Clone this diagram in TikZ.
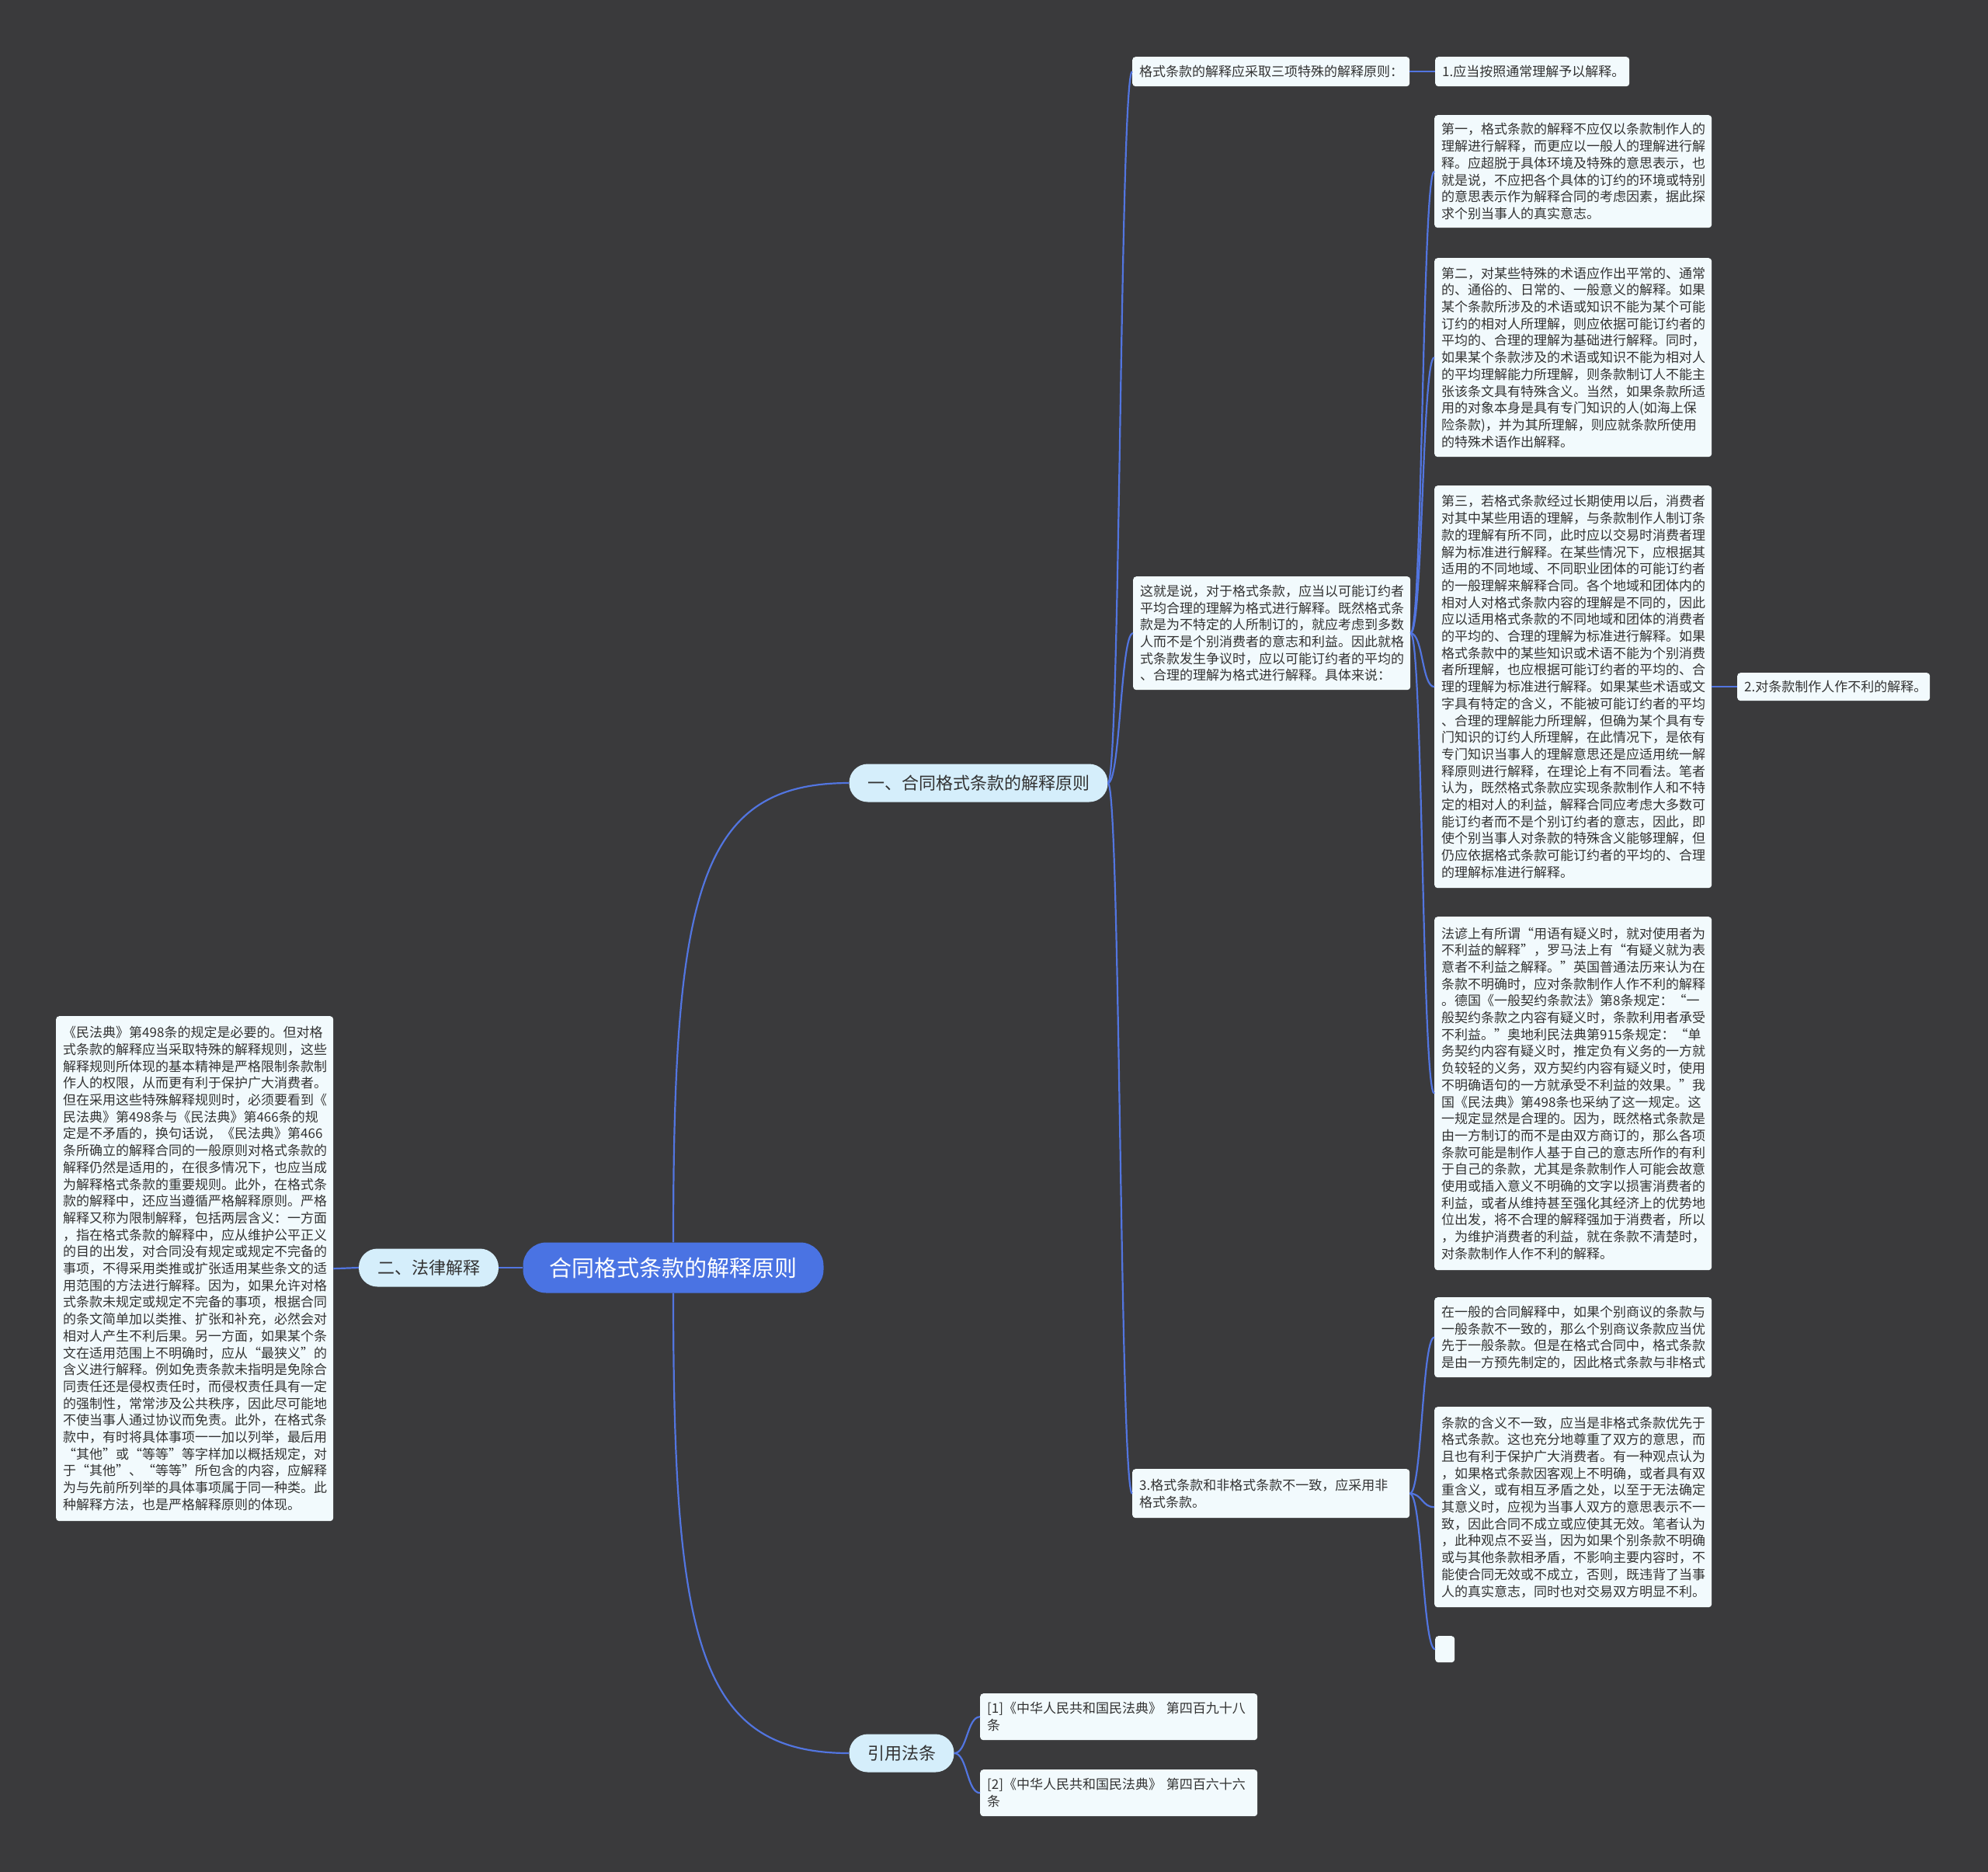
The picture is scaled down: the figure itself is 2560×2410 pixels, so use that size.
\documentclass[tikz,border=0pt]{standalone}
\usepackage{fontspec}
\setmainfont{Noto Sans CJK SC}
\usetikzlibrary{calc}
\definecolor{bg}{RGB}{58,58,60}
\definecolor{rootblue}{RGB}{74,115,227}
\definecolor{pill}{RGB}{213,238,251}
\definecolor{leaf}{RGB}{242,250,253}
\definecolor{conn}{RGB}{82,117,224}
\definecolor{txt}{RGB}{51,51,51}
\tikzset{
  leafbox/.style={fill=leaf, rounded corners=4pt, anchor=north west, inner xsep=9pt, inner ysep=8pt,
    align=left, text=txt, text width=339pt, font=\fontsize{17}{21.7}\selectfont},
  rootbox/.style={fill=rootblue, text=white, rounded corners=30pt, inner sep=0pt,
    minimum width=387pt, minimum height=65pt, font=\fontsize{29}{34}\selectfont},
  pillbox/.style={fill=pill, text=txt, rounded corners=24pt, inner sep=0pt,
    minimum height=49pt, font=\fontsize{22}{26}\selectfont},
  conn/.style={draw=conn, line width=2.2pt},
}
\begin{document}
\begin{tikzpicture}[x=1pt,y=-1pt]
\path[fill=bg] (0,0) rectangle (2560,2410);

% root and main branches
\node[rootbox] (root) at (867,1632) {合同格式条款的解释原则};
\node[pillbox, minimum width=333pt] (L1a) at (1260,1008) {一、合同格式条款的解释原则};
\node[pillbox, minimum width=180pt] (L1b) at (552,1632) {二、法律解释};
\node[pillbox, minimum width=135pt] (L1c) at (1161,2257) {引用法条};

% branch 1
\node[leafbox, minimum height=38pt] (A) at (1458,73) {格式条款的解释应采取三项特殊的解释原则：};
\node[leafbox, text width=232pt, minimum height=38pt] (B) at (1848,73) {1.应当按照通常理解予以解释。};

\node[leafbox, minimum height=146pt] (C) at (1459,742) {这就是说，对于格式条款，应当以可能订约者\\平均合理的理解为格式进行解释。既然格式条\\款是为不特定的人所制订的，就应考虑到多数\\人而不是个别消费者的意志和利益。因此就格\\式条款发生争议时，应以可能订约者的平均的\\、合理的理解为格式进行解释。具体来说：};

\node[leafbox, minimum height=145pt] (D1) at (1847,148) {第一，格式条款的解释不应仅以条款制作人的\\理解进行解释，而更应以一般人的理解进行解\\释。应超脱于具体环境及特殊的意思表示，也\\就是说，不应把各个具体的订约的环境或特别\\的意思表示作为解释合同的考虑因素，据此探\\求个别当事人的真实意志。};

\node[leafbox, minimum height=256pt] (D2) at (1847,332) {第二，对某些特殊的术语应作出平常的、通常\\的、通俗的、日常的、一般意义的解释。如果\\某个条款所涉及的术语或知识不能为某个可能\\订约的相对人所理解，则应依据可能订约者的\\平均的、合理的理解为基础进行解释。同时，\\如果某个条款涉及的术语或知识不能为相对人\\的平均理解能力所理解，则条款制订人不能主\\张该条文具有特殊含义。当然，如果条款所适\\用的对象本身是具有专门知识的人(如海上保\\险条款)，并为其所理解，则应就条款所使用\\的特殊术语作出解释。};

\node[leafbox, minimum height=518pt] (D3) at (1847,625) {第三，若格式条款经过长期使用以后，消费者\\对其中某些用语的理解，与条款制作人制订条\\款的理解有所不同，此时应以交易时消费者理\\解为标准进行解释。在某些情况下，应根据其\\适用的不同地域、不同职业团体的可能订约者\\的一般理解来解释合同。各个地域和团体内的\\相对人对格式条款内容的理解是不同的，因此\\应以适用格式条款的不同地域和团体的消费者\\的平均的、合理的理解为标准进行解释。如果\\格式条款中的某些知识或术语不能为个别消费\\者所理解，也应根据可能订约者的平均的、合\\理的理解为标准进行解释。如果某些术语或文\\字具有特定的含义，不能被可能订约者的平均\\、合理的理解能力所理解，但确为某个具有专\\门知识的订约人所理解，在此情况下，是依有\\专门知识当事人的理解意思还是应适用统一解\\释原则进行解释，在理论上有不同看法。笔者\\认为，既然格式条款应实现条款制作人和不特\\定的相对人的利益，解释合同应考虑大多数可\\能订约者而不是个别订约者的意志，因此，即\\使个别当事人对条款的特殊含义能够理解，但\\仍应依据格式条款可能订约者的平均的、合理\\的理解标准进行解释。};

\node[leafbox, text width=230pt, minimum height=36pt] (E) at (2237,866) {2.对条款制作人作不利的解释。};

\node[leafbox, minimum height=455pt] (D4) at (1847,1180) {法谚上有所谓“用语有疑义时，就对使用者为\\不利益的解释”，罗马法上有“有疑义就为表\\意者不利益之解释。”英国普通法历来认为在\\条款不明确时，应对条款制作人作不利的解释\\。德国《一般契约条款法》第8条规定：“一\\般契约条款之内容有疑义时，条款利用者承受\\不利益。”奥地利民法典第915条规定：“单\\务契约内容有疑义时，推定负有义务的一方就\\负较轻的义务，双方契约内容有疑义时，使用\\不明确语句的一方就承受不利益的效果。”我\\国《民法典》第498条也采纳了这一规定。这\\一规定显然是合理的。因为，既然格式条款是\\由一方制订的而不是由双方商订的，那么各项\\条款可能是制作人基于自己的意志所作的有利\\于自己的条款，尤其是条款制作人可能会故意\\使用或插入意义不明确的文字以损害消费者的\\利益，或者从维持甚至强化其经济上的优势地\\位出发，将不合理的解释强加于消费者，所以\\，为维护消费者的利益，就在条款不清楚时，\\对条款制作人作不利的解释。};

\node[leafbox, minimum height=63pt] (F) at (1458,1891) {3.格式条款和非格式条款不一致，应采用非\\格式条款。};

\node[leafbox, minimum height=103pt] (G1) at (1847,1670) {在一般的合同解释中，如果个别商议的条款与\\一般条款不一致的，那么个别商议条款应当优\\先于一般条款。但是在格式合同中，格式条款\\是由一方预先制定的，因此格式条款与非格式};

\node[leafbox, minimum height=258pt] (G2) at (1847,1811) {条款的含义不一致，应当是非格式条款优先于\\格式条款。这也充分地尊重了双方的意思，而\\且也有利于保护广大消费者。有一种观点认为\\，如果格式条款因客观上不明确，或者具有双\\重含义，或有相互矛盾之处，以至于无法确定\\其意义时，应视为当事人双方的意思表示不一\\致，因此合同不成立或应使其无效。笔者认为\\，此种观点不妥当，因为如果个别条款不明确\\或与其他条款相矛盾，不影响主要内容时，不\\能使合同无效或不成立，否则，既违背了当事\\人的真实意志，同时也对交易双方明显不利。};

\node[leafbox, text width=7pt, minimum height=34pt] (G3) at (1848,2106) {};

% branch 2
\node[leafbox, minimum height=650pt] (H) at (72,1308) {《民法典》第498条的规定是必要的。但对格\\式条款的解释应当采取特殊的解释规则，这些\\解释规则所体现的基本精神是严格限制条款制\\作人的权限，从而更有利于保护广大消费者。\\但在采用这些特殊解释规则时，必须要看到《\\民法典》第498条与《民法典》第466条的规\\定是不矛盾的，换句话说，《民法典》第466\\条所确立的解释合同的一般原则对格式条款的\\解释仍然是适用的，在很多情况下，也应当成\\为解释格式条款的重要规则。此外，在格式条\\款的解释中，还应当遵循严格解释原则。严格\\解释又称为限制解释，包括两层含义：一方面\\，指在格式条款的解释中，应从维护公平正义\\的目的出发，对合同没有规定或规定不完备的\\事项，不得采用类推或扩张适用某些条文的适\\用范围的方法进行解释。因为，如果允许对格\\式条款未规定或规定不完备的事项，根据合同\\的条文简单加以类推、扩张和补充，必然会对\\相对人产生不利后果。另一方面，如果某个条\\文在适用范围上不明确时，应从“最狭义”的\\含义进行解释。例如免责条款未指明是免除合\\同责任还是侵权责任时，而侵权责任具有一定\\的强制性，常常涉及公共秩序，因此尽可能地\\不使当事人通过协议而免责。此外，在格式条\\款中，有时将具体事项一一加以列举，最后用\\“其他”或“等等”等字样加以概括规定，对\\于“其他”、“等等”所包含的内容，应解释\\为与先前所列举的具体事项属于同一种类。此\\种解释方法，也是严格解释原则的体现。};

% branch 3
\node[leafbox, minimum height=60pt] (R1) at (1262,2180) {[1]《中华人民共和国民法典》 第四百九十八\\条};
\node[leafbox, minimum height=60pt] (R2) at (1262,2278) {[2]《中华人民共和国民法典》 第四百六十六\\条};

% connectors
\draw[conn] (root.north) .. controls ($(root.north)+(0,-450)$) and ($(L1a.west)+(-194,0)$) .. (L1a.west);
\draw[conn] (root.south) .. controls ($(root.south)+(0,450)$) and ($(L1c.west)+(-194,0)$) .. (L1c.west);
\draw[conn] (root.west) -- (L1b.east);
\draw[conn] (L1b.west) -- (H.east);

\foreach \c in {A,C,F}{
  \draw[conn] (L1a.east) .. controls ($(L1a.east)+(16,0)$) and ($(\c.west)+(-16,0)$) .. (\c.west);
}
\draw[conn] (A.east) -- (B.west);
\foreach \c in {D1,D2,D3,D4}{
  \draw[conn] (C.east) .. controls ($(C.east)+(16,0)$) and ($(\c.west)+(-16,0)$) .. (\c.west);
}
\draw[conn] (D3.east) -- (E.west);
\foreach \c in {G1,G2,G3}{
  \draw[conn] (F.east) .. controls ($(F.east)+(16,0)$) and ($(\c.west)+(-16,0)$) .. (\c.west);
}
\foreach \c in {R1,R2}{
  \draw[conn] (L1c.east) .. controls ($(L1c.east)+(17,0)$) and ($(\c.west)+(-17,0)$) .. (\c.west);
}
\end{tikzpicture}
\end{document}
